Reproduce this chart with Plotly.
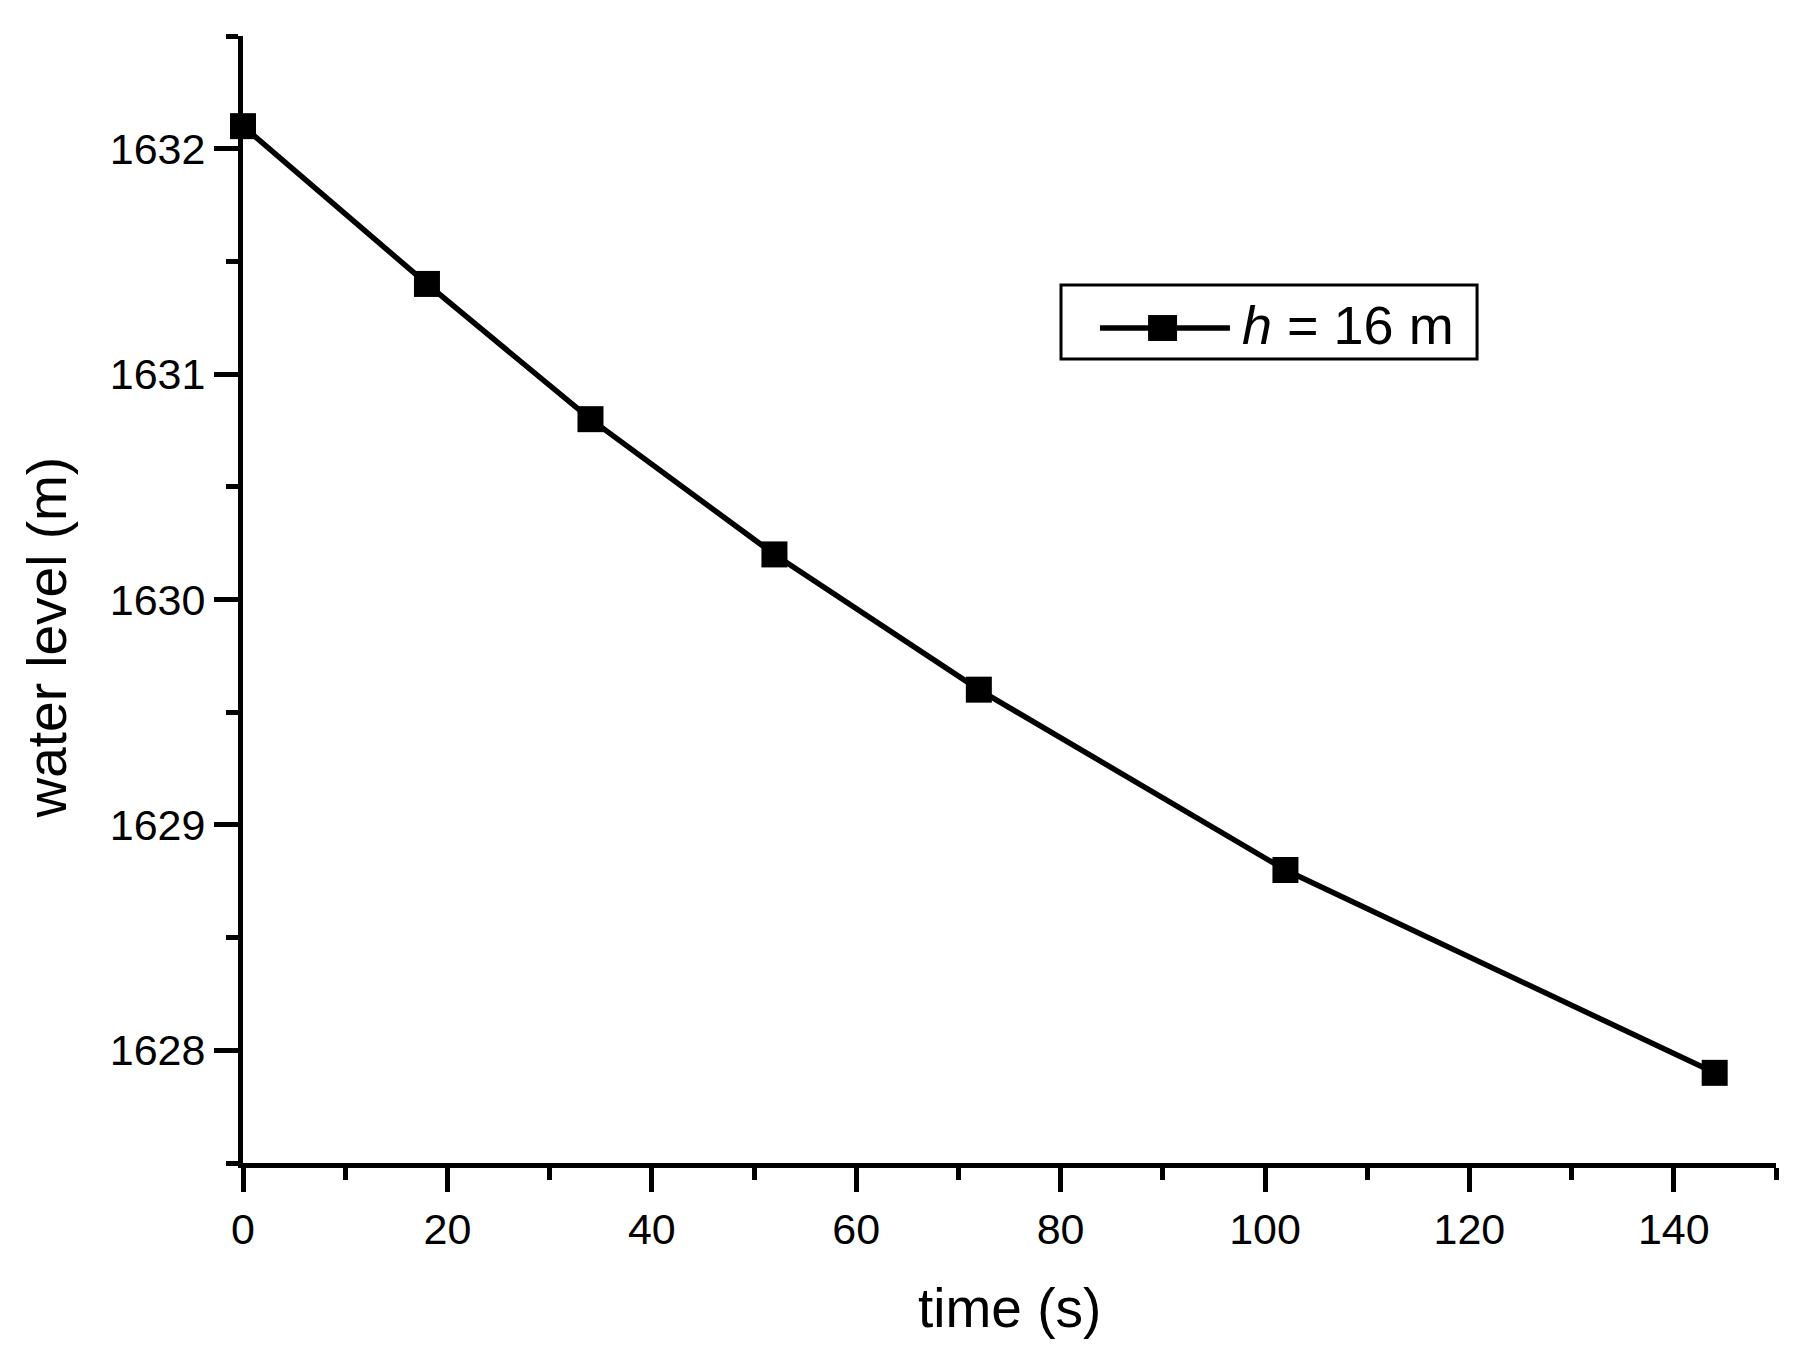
import plotly.graph_objects as go

time_s = [0, 18, 34, 52, 72, 102, 144]
water_level = [1632.1, 1631.4, 1630.8, 1630.2, 1629.6, 1628.8, 1627.9]
series_name = "<i>h</i> = 16 m"

FONT = "Arial, 'Liberation Sans', sans-serif"

fig = go.Figure()
fig.add_trace(go.Scatter(
    x=time_s, y=water_level, mode="lines+markers", name=series_name,
    line=dict(color="black", width=5.5),
    marker=dict(symbol="square", size=26, color="black"),
    cliponaxis=False, showlegend=False,
))

axis_common = dict(
    showline=True, linecolor="black", linewidth=5,
    ticks="outside", ticklen=24, tickwidth=4.5, tickcolor="black",
    showgrid=False, zeroline=False,
    tickfont=dict(family=FONT, size=43, color="black"),
)

fig.update_xaxes(
    range=[0, 150], tick0=0, dtick=20,
    minor=dict(ticks="outside", ticklen=12, tickwidth=4.5, tickcolor="black", dtick=10, tick0=0, showgrid=False),
    **axis_common,
)
fig.update_yaxes(
    range=[1627.5, 1632.5], tick0=1628, dtick=1,
    minor=dict(ticks="outside", ticklen=12, tickwidth=4.5, tickcolor="black", dtick=0.5, tick0=1627.5, showgrid=False),
    **axis_common,
)

fig.add_annotation(text="time (s)", xref="paper", yref="paper", x=0.5, y=0,
                   yshift=-145, showarrow=False, yanchor="middle", xanchor="center",
                   font=dict(family=FONT, size=55, color="black"))
fig.add_annotation(text="water level (m)", xref="paper", yref="paper", x=0, y=0.5,
                   xshift=-197, yshift=-38, textangle=-90, showarrow=False,
                   xanchor="center", yanchor="middle",
                   font=dict(family=FONT, size=55, color="black"))

# Legend drawn as a framed key (plot area: x 243..1776 px, y 36..1163 px)
fig.add_shape(type="rect", xref="paper", yref="paper",
              x0=0.5336, x1=0.805, y0=0.7134, y1=0.779,
              line=dict(color="black", width=3), fillcolor="white", layer="above")
fig.add_shape(type="line", xref="paper", yref="paper",
              x0=0.559, x1=0.6438, y0=0.7409, y1=0.7409,
              line=dict(color="black", width=5.5), layer="above")
fig.add_shape(type="rect", xref="paper", yref="paper",
              x0=0.5904, x1=0.6093, y0=0.7294, y1=0.7524,
              line=dict(color="black", width=0), fillcolor="black", layer="above")
fig.add_annotation(text=series_name, xref="paper", yref="paper", x=0.6504, y=0.7436,
                   xanchor="left", yanchor="middle", showarrow=False,
                   font=dict(family=FONT, size=54, color="black"))

fig.update_layout(
    width=1800, height=1358,
    margin=dict(l=243, r=24, t=36, b=195),
    paper_bgcolor="white", plot_bgcolor="white",
    showlegend=False,
)

fig.write_html("out.html")
